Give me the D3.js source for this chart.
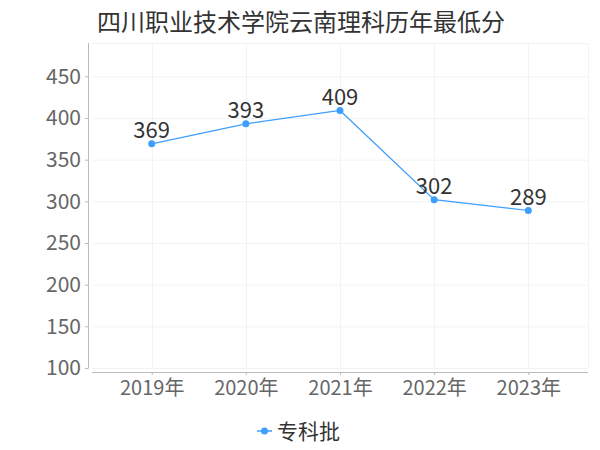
<!DOCTYPE html>
<html>
<head>
<meta charset="utf-8">
<script src="https://cdn.jsdelivr.net/npm/d3@7"></script>
<style>
  html, body { margin: 0; padding: 0; background: #fff; }
  svg { display: block; font-family: "Noto Sans CJK SC", sans-serif; }
</style>
</head>
<body>
<svg id="chart" width="600" height="450"></svg>
<script>
const title = "四川职业技术学院云南理科历年最低分";
const categories = ["2019年", "2020年", "2021年", "2022年", "2023年"];
const seriesName = "专科批";
const values = [369, 393, 409, 302, 289];
const yTicks = [100, 150, 200, 250, 300, 350, 400, 450];

const svg = d3.select("#chart");
const plot = { left: 92, right: 588, top: 43, bottom: 368 };
const lineColor = "#3d9efc";

const x = d3.scalePoint().domain(categories)
  .range([plot.left, plot.right]).padding(0.634);
const y = d3.scaleLinear().domain([100, 490]).range([plot.bottom, plot.top]);

// Title
svg.append("text").attr("x", 97).attr("y", 31)
  .attr("font-size", 24).attr("fill", "#333")
  .text(title);

// Grid
const grid = svg.append("g");
grid.selectAll("line.h").data(yTicks.concat([490])).enter().append("line")
  .attr("x1", plot.left).attr("x2", plot.right)
  .attr("y1", d => y(d) + 0.5).attr("y2", d => y(d) + 0.5)
  .attr("stroke", "#f3f3f3");
grid.selectAll("line.v").data(categories).enter().append("line")
  .attr("x1", d => Math.round(x(d)) + 0.5).attr("x2", d => Math.round(x(d)) + 0.5)
  .attr("y1", plot.top).attr("y2", plot.bottom)
  .attr("stroke", "#f3f3f3");
grid.append("line").attr("x1", plot.right + 0.5).attr("x2", plot.right + 0.5)
  .attr("y1", plot.top).attr("y2", plot.bottom).attr("stroke", "#f3f3f3");

// Y axis
const yAxis = svg.append("g").attr("transform", "translate(88,0)")
  .call(d3.axisLeft(y).tickValues(yTicks).tickSize(3).tickPadding(4));
yAxis.select(".domain").attr("stroke", "#bbb").attr("d", `M0.5,${plot.top}V${plot.bottom + 0.5}`);
yAxis.selectAll(".tick line").attr("stroke", "#bbb");
yAxis.selectAll(".tick text").attr("font-size", 21).attr("fill", "#666")
  .attr("font-family", "'Noto Sans CJK SC', sans-serif");

// X axis
const xAxis = svg.append("g").attr("transform", "translate(0,372)")
  .call(d3.axisBottom(x).tickSize(3).tickPadding(6));
xAxis.select(".domain").attr("stroke", "#bbb").attr("d", `M${plot.left},0.5H${plot.right}`);
xAxis.selectAll(".tick line").attr("stroke", "#bbb");
xAxis.selectAll(".tick text").attr("font-size", 20).attr("fill", "#666")
  .attr("font-family", "'Noto Sans CJK SC', sans-serif");

// Line
const line = d3.line().x((d, i) => x(categories[i])).y(d => y(d));
svg.append("path").datum(values).attr("d", line)
  .attr("fill", "none").attr("stroke", lineColor).attr("stroke-width", 1.2);

svg.selectAll("circle.pt").data(values).enter().append("circle")
  .attr("cx", (d, i) => x(categories[i])).attr("cy", d => y(d))
  .attr("r", 3.5).attr("fill", lineColor);

svg.selectAll("text.lbl").data(values).enter().append("text")
  .attr("x", (d, i) => x(categories[i])).attr("y", d => y(d) - 6)
  .attr("text-anchor", "middle").attr("font-size", 22).attr("fill", "#333")
  .text(d => d);

// Legend
const lg = svg.append("g");
lg.append("line").attr("x1", 257).attr("x2", 272).attr("y1", 431).attr("y2", 431)
  .attr("stroke", lineColor).attr("stroke-width", 1.5);
lg.append("circle").attr("cx", 264.5).attr("cy", 431).attr("r", 3.5).attr("fill", lineColor);
lg.append("text").attr("x", 277).attr("y", 439).attr("font-size", 21).attr("fill", "#333")
  .text(seriesName);
</script>
</body>
</html>
